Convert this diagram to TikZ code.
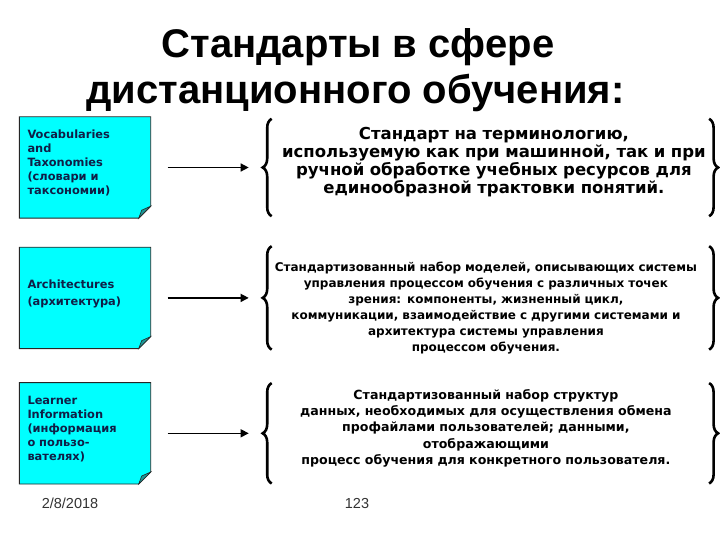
\documentclass[tikz,border=0pt]{standalone}
\usepackage{fontspec}
\setmainfont{Liberation Sans}
\newfontfamily\verd{DejaVu Sans}
\usepackage{tikz}
\usetikzlibrary{arrows.meta, positioning, decorations.pathreplacing, backgrounds}
\definecolor{notecyan}{RGB}{0,255,255}
\definecolor{notefold}{RGB}{30,150,150}
\definecolor{noteink}{RGB}{16,30,70}
\newcommand{\notegap}{\par\vspace*{9pt}}

\begin{document}
\begin{tikzpicture}[x=1pt, y=-1pt,
    note/.style={minimum width=131pt, minimum height=101pt, text width=115pt, inner sep=8pt,
      align=left, text=noteink, font=\verd\bfseries\fontsize{11.4}{14}\selectfont,
      execute at end node=\notegap},
    frame/.style={text width=434pt, inner sep=0pt},
    desc/.style={text width=440pt, inner sep=0pt, align=center},
    brc/.style={decorate, decoration={brace, amplitude=9pt}, line width=2.6pt},
    arr/.style={-{Triangle[length=8pt, width=8pt]}, line width=1.4pt, shorten <=17pt},
    ttl/.style={anchor=base, font=\bfseries\fontsize{40}{46}\selectfont},
    foot/.style={anchor=base, text=black!80, font=\fontsize{14.5}{17}\selectfont}
  ]
  \useasboundingbox (0,0) rectangle (720,540);

  \node[ttl] (ttl1) at (358,58) {Стандарты в сфере};
  \node[ttl] (ttl2) at (355.5,104) {дистанционного обучения:};

  % notes on the left
  \node[note] (voc) at (85,167.5) {Vocabularies\\and\\Taxonomies\\(словари и\\таксономии)};
  \node[note, below=29pt of voc, font=\verd\bfseries\fontsize{11.4}{17}\selectfont] (arch)
    {Architectures\\(архитектура)};
  \node[note, below=34pt of arch] (lrn) {Learner\\Information\\(информация\\о пользо-\\вателях)};

  % frames held by the braces
  \node[frame, right=122pt of voc, minimum height=97pt] (b1) {};
  \node[frame, right=122pt of arch, minimum height=103pt] (b2) {};
  \node[frame, right=122pt of lrn, minimum height=100pt] (b3) {};

  % descriptions
  \node[desc, font=\verd\bfseries\fontsize{16.5}{18}\selectfont] (d1) at ([xshift=4pt, yshift=5pt]b1.center)
    {Стандарт на терминологию,\\используемую как при машинной, так и при\\ручной обработке учебных ресурсов для\\единообразной трактовки понятий.};
  \node[desc, font=\verd\bfseries\fontsize{12}{16}\selectfont] (d2) at ([xshift=-4pt, yshift=-10pt]b2.center)
    {Стандартизованный набор моделей, описывающих системы\\управления процессом обучения с различных точек\\зрения: компоненты, жизненный цикл,\\коммуникации, взаимодействие с другими системами и\\архитектура системы управления\\процессом обучения.};
  \node[desc, font=\verd\bfseries\fontsize{12.6}{16.3}\selectfont] (d3) at ([xshift=-4pt, yshift=5pt]b3.center)
    {Стандартизованный набор структур\\данных, необходимых для осуществления обмена\\профайлами пользователей; данными,\\отображающими\\процесс обучения для конкретного пользователя.};

  \node[foot] (date) at (70,508) {2/8/2018};
  \node[foot] (page) at (357,508) {123};

  % folded notes
  \begin{scope}[on background layer]
    \foreach \b in {voc,arch,lrn} {
      \filldraw[fill=notecyan, draw=black!85, line width=0.9pt]
        (\b.north west) -- (\b.north east) -- ([yshift=12pt]\b.south east)
        -- ([xshift=-12pt]\b.south east) -- (\b.south west) -- cycle;
      \filldraw[fill=notefold, draw=black!85, line width=0.6pt]
        ([yshift=12pt]\b.south east) -- ([xshift=-12pt]\b.south east)
        -- ([xshift=-9pt, yshift=8pt]\b.south east) -- cycle;
    }
  \end{scope}

  % braces and arrows
  \foreach \f/\n in {b1/voc,b2/arch,b3/lrn} {
    \draw[brc] ([xshift=-1pt]\f.south west) -- ([xshift=-1pt]\f.north west);
    \draw[brc] ([xshift=2pt]\f.north east) -- ([xshift=2pt]\f.south east);
    \coordinate (t\f) at ([xshift=-24pt]\f.west);
    \draw[arr] (\n) -- (t\f);
  }
\end{tikzpicture}
\end{document}
